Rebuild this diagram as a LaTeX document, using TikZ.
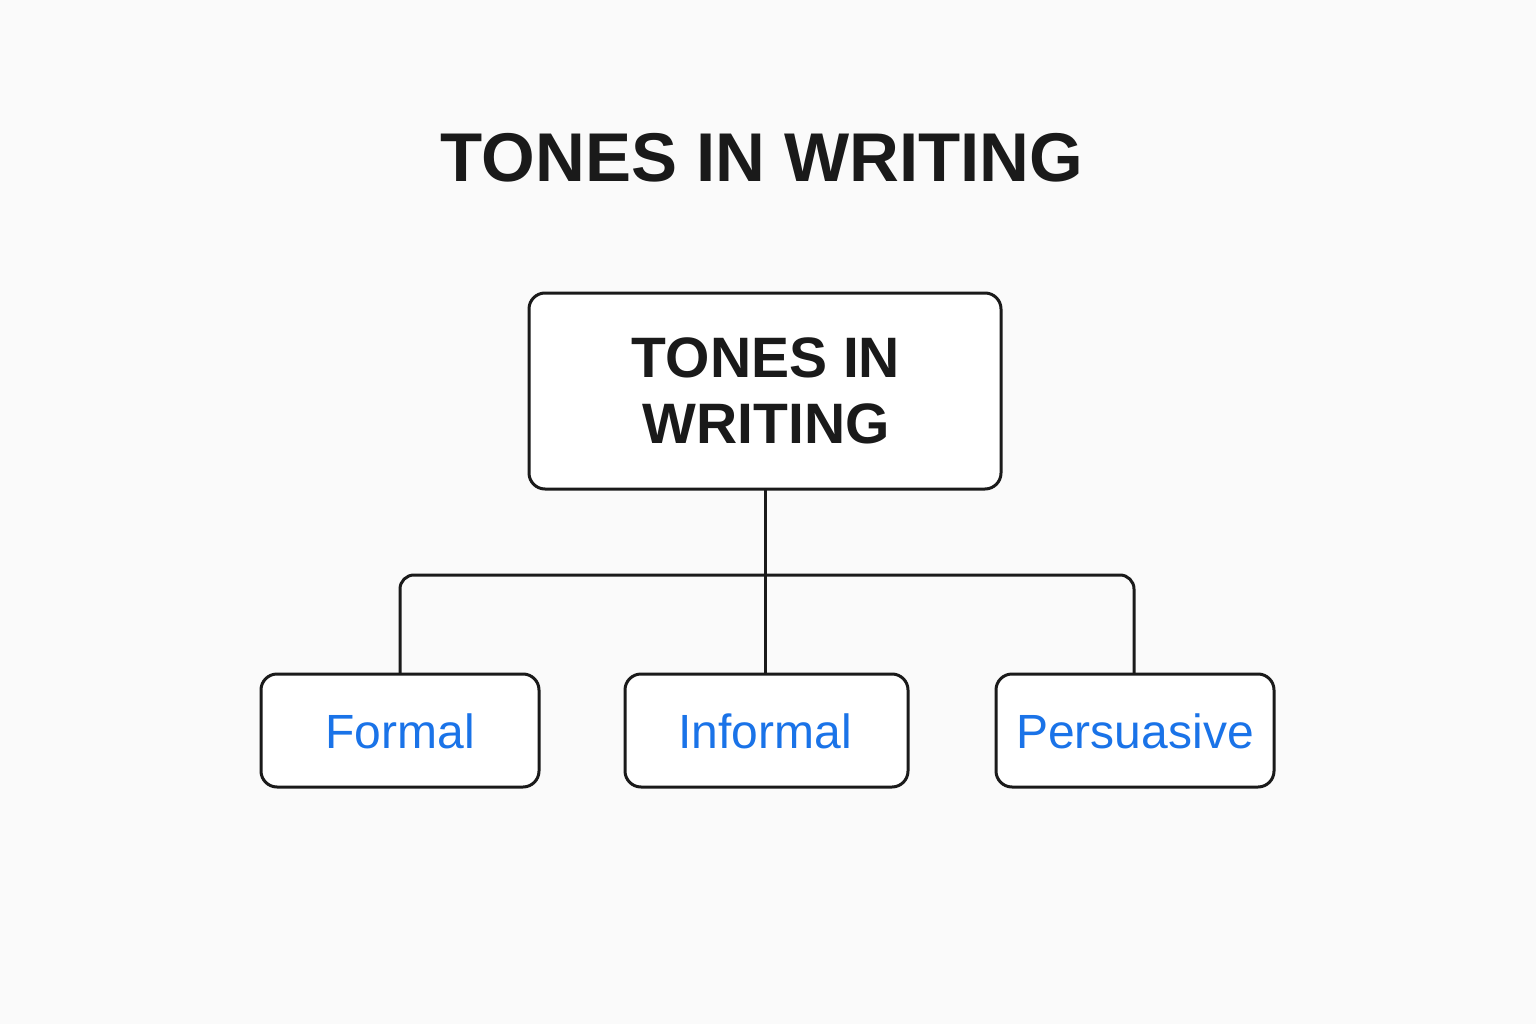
\documentclass[tikz,border=0pt]{standalone}
\usepackage{fontspec}
\setmainfont{Liberation Sans}
\definecolor{bg}{HTML}{FAFAFA}
\definecolor{ink}{HTML}{1A1A1A}
\definecolor{tblue}{HTML}{1A73E8}
\begin{document}
\begin{tikzpicture}[x=1pt,y=-1pt,
  box/.style={draw=ink,line width=3pt,rounded corners=16pt,fill=white},
  leaf/.style={font=\fontsize{48}{54}\selectfont,text=tblue},
  conn/.style={draw=ink,line width=3pt}]
\fill[bg] (0,0) rectangle (1536,1024);
\useasboundingbox (0,0) rectangle (1536,1024);
\node[font=\fontsize{69}{75}\selectfont\bfseries,text=ink] (title) at (762,158) {TONES IN WRITING};
\draw[box] (529,293) rectangle (1001,489);
\node[font=\fontsize{57}{66}\selectfont\bfseries,text=ink,align=center] (root) at (766,391) {TONES IN\\WRITING};
\coordinate (rb) at (765,489);
\draw[box] (261,674) rectangle (539,787);
\draw[box] (625,674) rectangle (908,787);
\draw[box] (996,674) rectangle (1274,787);
\node[leaf] (f) at (400,731) {Formal};
\node[leaf] (i) at (765,731) {Informal};
\node[leaf] (p) at (1135,731) {Persuasive};
\coordinate (ft) at (400,674);
\coordinate (it) at (765,674);
\coordinate (pt) at (1134,674);
\draw[conn] (rb) -- (it);
\draw[conn,rounded corners=14pt] (ft) -- (400,575) -- (1134,575) -- (pt);
\end{tikzpicture}
\end{document}
